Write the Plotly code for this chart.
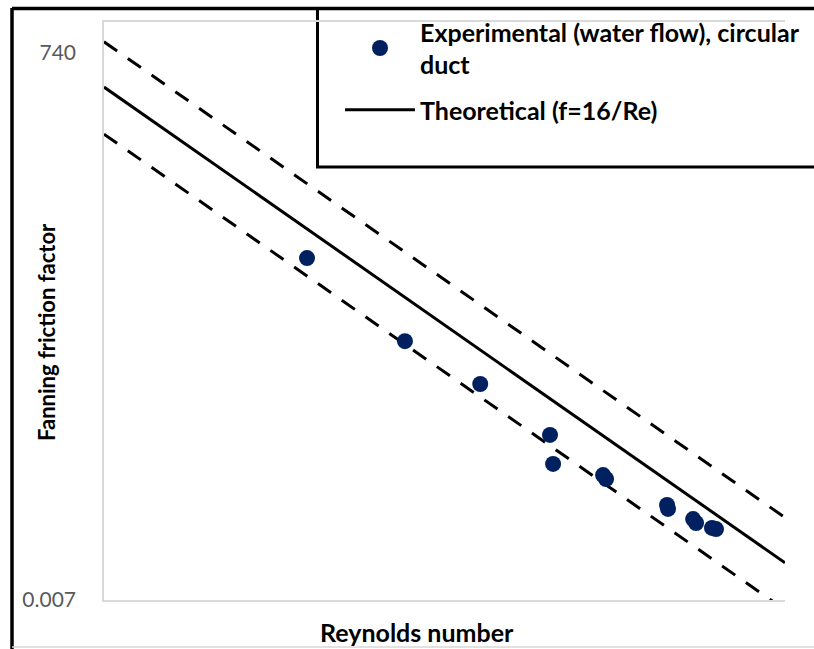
import plotly.graph_objects as go
import numpy as np

# Data
re_exp = [0.90, 3.82, 11.6, 32.5, 34.0, 71.1, 74.3, 182.8, 185.4, 268.5, 280.5, 354.8, 376.7]
f_exp = [9.6, 1.66, 0.671, 0.229, 0.124, 0.098, 0.0902, 0.0521, 0.0479, 0.0387, 0.0356, 0.0321, 0.0313]

re_line = [10 ** -1.347, 10 ** 3.018]
f_theory = [16 / r for r in re_line]
upper_factor = 2.6
lower_factor = 0.37
f_upper = [upper_factor * v for v in f_theory]
f_lower = [lower_factor * v for v in f_theory]

y_tickvals = [0.007, 740]
y_ticktext = ["0.007", "740"]

L, R, T, B = 104, 29, 22, 49
W, H = 814, 649
PW, PH = W - L - R, H - T - B


def px(x):
    return (x - L) / PW


def py(y):
    return (H - B - y) / PH


fig = go.Figure()
fig.add_trace(go.Scatter(x=re_line, y=f_upper, mode="lines", showlegend=False,
                         line=dict(color="black", width=3, dash="16px,13px"), hoverinfo="skip"))
fig.add_trace(go.Scatter(x=re_line, y=f_lower, mode="lines", showlegend=False,
                         line=dict(color="black", width=3, dash="16px,13px"), hoverinfo="skip"))
fig.add_trace(go.Scatter(x=re_exp, y=f_exp, mode="markers", legendgroup="exp",
                         name="Experimental (water flow), circular<br>duct",
                         marker=dict(color="#002060", size=16)))
fig.add_trace(go.Scatter(x=re_line, y=f_theory, mode="lines", legendgroup="theory",
                         name="Theoretical (f=16/Re)",
                         line=dict(color="black", width=3)))

fig.update_layout(
    width=W, height=H,
    margin=dict(l=L, r=R, t=T, b=B, autoexpand=False),
    paper_bgcolor="white", plot_bgcolor="white",
    font=dict(family="Lato", color="black"),
    xaxis=dict(type="log", range=[-1.347, 3.018], showticklabels=False, ticks="",
               showgrid=False, zeroline=False, showline=True, linecolor="#d9d9d9",
               linewidth=1.5, mirror=True),
    yaxis=dict(type="log", range=[np.log10(0.007), 3.148], tickvals=y_tickvals,
               ticktext=y_ticktext, ticks="", showgrid=False, zeroline=False,
               showline=True, linecolor="#d9d9d9", linewidth=1.5,
               tickfont=dict(family="Lato", size=21, color="#595959"),
               ticklabelstandoff=22),
    showlegend=True,
    legend=dict(x=px(340), y=py(9), xanchor="left", yanchor="top",
                bgcolor="rgba(0,0,0,0)", borderwidth=0, itemwidth=70,
                font=dict(family="Lato", size=25, weight="bold", color="black"),
                tracegroupgap=10),
    shapes=[
        dict(type="rect", xref="paper", yref="paper", x0=px(317.5), x1=px(830),
             y0=py(167), y1=py(8.5), line=dict(color="black", width=3),
             fillcolor="white", layer="below"),
        dict(type="line", xref="paper", yref="paper", x0=px(12), x1=px(830),
             y0=py(8.5), y1=py(8.5), line=dict(color="black", width=3.5)),
        dict(type="line", xref="paper", yref="paper", x0=px(12), x1=px(12),
             y0=py(8), y1=py(660), line=dict(color="black", width=3.5)),
        dict(type="line", xref="paper", yref="paper", x0=px(12), x1=px(830),
             y0=py(647), y1=py(647), line=dict(color="#d9d9d9", width=1.5)),
    ],
    annotations=[
        dict(text="Reynolds number", xref="paper", yref="paper", x=px(417), y=py(632),
             xanchor="center", yanchor="middle", showarrow=False,
             font=dict(family="Lato", size=25, weight="bold", color="black")),
        dict(text="Fanning friction factor", xref="paper", yref="paper", x=px(46), y=py(332),
             xanchor="center", yanchor="middle", showarrow=False, textangle=-90,
             font=dict(family="Lato", size=22, weight="bold", color="black")),
    ],
)

fig.write_html("out.html", config={"displayModeBar": False},
               post_script="document.body.style.margin='0px';document.body.style.overflow='hidden';")
